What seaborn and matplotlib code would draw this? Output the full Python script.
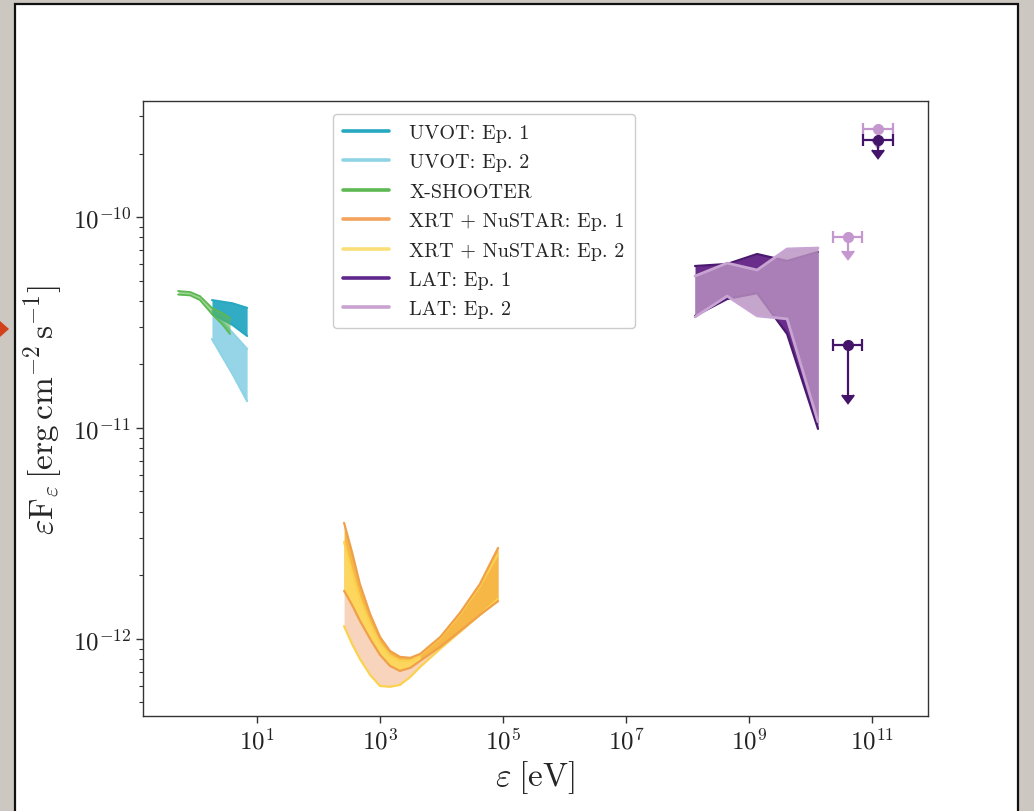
import numpy as np
import pandas as pd
import matplotlib
matplotlib.use("Agg")
import matplotlib.pyplot as plt
import seaborn as sns
from matplotlib.lines import Line2D
from matplotlib.patches import Rectangle, Polygon
from matplotlib.ticker import FixedLocator, LogLocator, NullFormatter, NullLocator

# ---------------- data ----------------
# Swift/UVOT bands (eV, erg cm^-2 s^-1)
uvot_x = [1.85, 4.0, 6.9]
uvot1_hi = [4.04e-11, 3.90e-11, 3.71e-11]
uvot1_lo = [3.47e-11, 3.08e-11, 2.73e-11]
uvot2_hi = [3.59e-11, 2.83e-11, 2.37e-11]
uvot2_lo = [2.64e-11, 1.80e-11, 1.34e-11]

# X-SHOOTER band
xsh_x = [0.52, 0.82, 1.18, 1.85, 2.70, 3.64]
xsh_hi = [4.46e-11, 4.41e-11, 4.22e-11, 3.71e-11, 3.51e-11, 3.32e-11]
xsh_lo = [4.29e-11, 4.25e-11, 4.04e-11, 3.47e-11, 3.11e-11, 2.79e-11]

# XRT + NuSTAR bands
xrt_x = [260, 350, 470, 690, 1000, 1450, 2100, 3100, 4500, 9500, 2.0e4, 4.2e4, 8.3e4]
xrt1_hi = [3.55e-12, 2.58e-12, 1.82e-12, 1.31e-12, 1.02e-12, 8.77e-13, 8.22e-13,
           8.13e-13, 8.49e-13, 1.02e-12, 1.33e-12, 1.82e-12, 2.70e-12]
xrt1_lo = [1.69e-12, 1.45e-12, 1.22e-12, 1.00e-12, 8.40e-13, 7.45e-13, 7.05e-13,
           7.29e-13, 7.87e-13, 9.17e-13, 1.09e-12, 1.30e-12, 1.51e-12]
xrt2_hi = [2.88e-12, 2.08e-12, 1.55e-12, 1.18e-12, 9.47e-13, 8.31e-13, 7.87e-13,
           7.87e-13, 8.40e-13, 1.01e-12, 1.31e-12, 1.78e-12, 2.53e-12]
xrt2_lo = [1.15e-12, 9.47e-13, 8.04e-13, 6.75e-13, 5.98e-13, 5.93e-13, 6.05e-13,
           6.60e-13, 7.37e-13, 8.97e-13, 1.08e-12, 1.30e-12, 1.55e-12]
xrt_soft_edge = 4500  # upper end of the soft-band overlap shading

# Fermi/LAT bands
lat_x = [1.32e8, 4.4e8, 1.35e9, 4.15e9, 1.32e10]
lat1_hi = [5.86e-11, 5.99e-11, 6.68e-11, 6.19e-11, 6.83e-11]
lat1_lo = [3.40e-11, 4.09e-11, 4.36e-11, 2.79e-11, 9.9e-12]
lat2_hi = [5.25e-11, 6.05e-11, 5.61e-11, 7.06e-11, 7.13e-11]
lat2_lo = [3.36e-11, 4.22e-11, 3.40e-11, 3.29e-11, 1.07e-11]

# LAT upper limits
ul_x = [4.1e10, 1.25e11]
ul_xlo = [2.32e10, 7.1e10]
ul_xhi = [6.87e10, 2.2e11]
ul1_y = [2.47e-11, 2.32e-10]
ul1_yerr = [1.04e-11, 2.4e-11]
ul2_y = [8.04e-11, 2.61e-10]
ul2_yerr = [1.14e-11, 3.0e-11]

labels = ["UVOT: Ep. 1", "UVOT: Ep. 2", "X-SHOOTER", "XRT + NuSTAR: Ep. 1",
          "XRT + NuSTAR: Ep. 2", "LAT: Ep. 1", "LAT: Ep. 2"]

# ---------------- style ----------------
sns.set_theme(style="ticks")
plt.rcParams.update({
    "font.family": "serif",
    "font.serif": ["cmr10", "DejaVu Serif"],
    "mathtext.fontset": "cm",
    "axes.unicode_minus": False,
    "axes.formatter.use_mathtext": True,
    "axes.edgecolor": "#333333",
    "axes.linewidth": 1.0,
    "xtick.color": "#333333",
    "ytick.color": "#333333",
    "xtick.labelcolor": "#222222",
    "ytick.labelcolor": "#222222",
})

c_uv1, c_uv2 = "#26a8c1", "#8fd3e6"
c_xsh = "#5db851"
c_x1, c_x2 = "#f4a35e", "#fadf78"
c_l1, c_l2 = "#5f268b", "#c9a2d1"

fig = plt.figure(figsize=(10.34, 8.12), dpi=100)
fig.patch.set_facecolor("#ccc8c1")
W, H = 1034.0, 812.0
fig.add_artist(Rectangle((15 / W, -0.02), (1018 - 15) / W, 1 - 5 / H + 0.02,
                         transform=fig.transFigure, facecolor="white",
                         edgecolor="#111111", lw=1.6, zorder=0))
fig.add_artist(Polygon([(0, 1 - 322 / H), (9 / W, 1 - 330 / H), (0, 1 - 338 / H)],
                       closed=True, transform=fig.transFigure,
                       facecolor="#d3401c", edgecolor="none", zorder=1))

ax = fig.add_axes([143 / W, 1 - 717 / H, (928 - 143) / W, (717 - 102) / H])
ax.set_facecolor("white")
ax.set_xscale("log")
ax.set_yscale("log")


def edges(x, lo, hi, color, lw, z):
    for y in (lo, hi):
        sns.lineplot(x=x, y=y, ax=ax, color=color, lw=lw, sort=False,
                     estimator=None, legend=False, zorder=z)


# UVOT
ax.fill_between(uvot_x, uvot2_lo, uvot2_hi, color=c_uv2, alpha=0.95, lw=0, zorder=2)
edges(uvot_x, uvot2_lo, uvot2_hi, c_uv2, 1.5, 2.1)
ax.fill_between(uvot_x, uvot1_lo, uvot1_hi, color=c_uv1, alpha=0.95, lw=0, zorder=3)
edges(uvot_x, uvot1_lo, uvot1_hi, c_uv1, 1.5, 3.1)

# X-SHOOTER
ax.fill_between(xsh_x, xsh_lo, xsh_hi, color=c_xsh, alpha=0.6, lw=0, zorder=4)
edges(xsh_x, xsh_lo, xsh_hi, c_xsh, 1.3, 4.1)

# XRT + NuSTAR
xr = np.array(xrt_x)
ax.fill_between(xrt_x, xrt2_lo, xrt2_hi, color="#f8d4bc", lw=0, zorder=2)
ax.fill_between(xrt_x, xrt1_lo, xrt1_hi, color="#f6b746", lw=0, zorder=2.2)
ax.fill_between(xrt_x, xrt1_lo, xrt2_hi, where=xr <= xrt_soft_edge,
                color="#fdd65e", lw=0, zorder=2.4)
edges(xrt_x, xrt2_lo, xrt2_hi, "#fbd24f", 1.6, 2.6)
edges(xrt_x, xrt1_lo, xrt1_hi, "#f0a048", 1.6, 2.8)

# LAT
ax.fill_between(lat_x, lat1_lo, lat1_hi, color="#6b2d8b", lw=0, zorder=2)
edges(lat_x, lat1_lo, lat1_hi, "#4b1a70", 1.6, 2.1)
ax.fill_between(lat_x, lat2_lo, lat2_hi, color="#b991c0", alpha=0.82, lw=0, zorder=2.2)
edges(lat_x, lat2_lo, lat2_hi, "#c8a4d3", 2.0, 2.3)

# LAT upper limits
ux = np.array(ul_x)
xerr = [ux - np.array(ul_xlo), np.array(ul_xhi) - ux]
ax.errorbar(ul_x, ul2_y, xerr=xerr, yerr=ul2_yerr, uplims=True, fmt="o",
            color="#c597cf", ms=7, capsize=4, elinewidth=1.6, capthick=1.6, zorder=5)
ax.errorbar(ul_x, ul1_y, xerr=xerr, yerr=ul1_yerr, uplims=True, fmt="o",
            color="#44146a", ms=7, capsize=4, elinewidth=1.6, capthick=1.6, zorder=6)

# axes
ax.set_xlim(0.14, 8.1e11)
ax.set_ylim(4.31e-13, 3.55e-10)
ax.xaxis.set_major_locator(FixedLocator([1e1, 1e3, 1e5, 1e7, 1e9, 1e11]))
ax.xaxis.set_minor_locator(NullLocator())
ax.yaxis.set_major_locator(FixedLocator([1e-12, 1e-11, 1e-10]))
ax.yaxis.set_minor_locator(LogLocator(base=10, subs=np.arange(2, 10)))
ax.yaxis.set_minor_formatter(NullFormatter())
ax.tick_params(axis="both", which="major", labelsize=18, length=5, width=1)
ax.tick_params(axis="y", which="minor", length=3, width=0.8)
for s in ax.spines.values():
    s.set_visible(True)

ax.set_xlabel(r"$\varepsilon\;[\mathrm{eV}]$", fontsize=24, labelpad=3)
ax.set_ylabel(r"$\varepsilon\mathrm{F}_{\varepsilon}\,[\mathrm{erg\,cm^{-2}\,s^{-1}}]$",
              fontsize=24, labelpad=6)

handle_colors = [c_uv1, c_uv2, c_xsh, c_x1, c_x2, c_l1, c_l2]
handles = [Line2D([], [], color=c, lw=2.6) for c in handle_colors]
leg = ax.legend(handles, labels, loc="upper left", bbox_to_anchor=(0.242, 0.979),
                borderaxespad=0, fontsize=14.5, handlelength=2.3, labelspacing=0.56,
                frameon=True, fancybox=True, framealpha=1, edgecolor="#cccccc",
                borderpad=0.5, handletextpad=1.0)
leg.get_frame().set_linewidth(1.0)

fig.savefig("out.png", dpi=100, facecolor=fig.get_facecolor())
